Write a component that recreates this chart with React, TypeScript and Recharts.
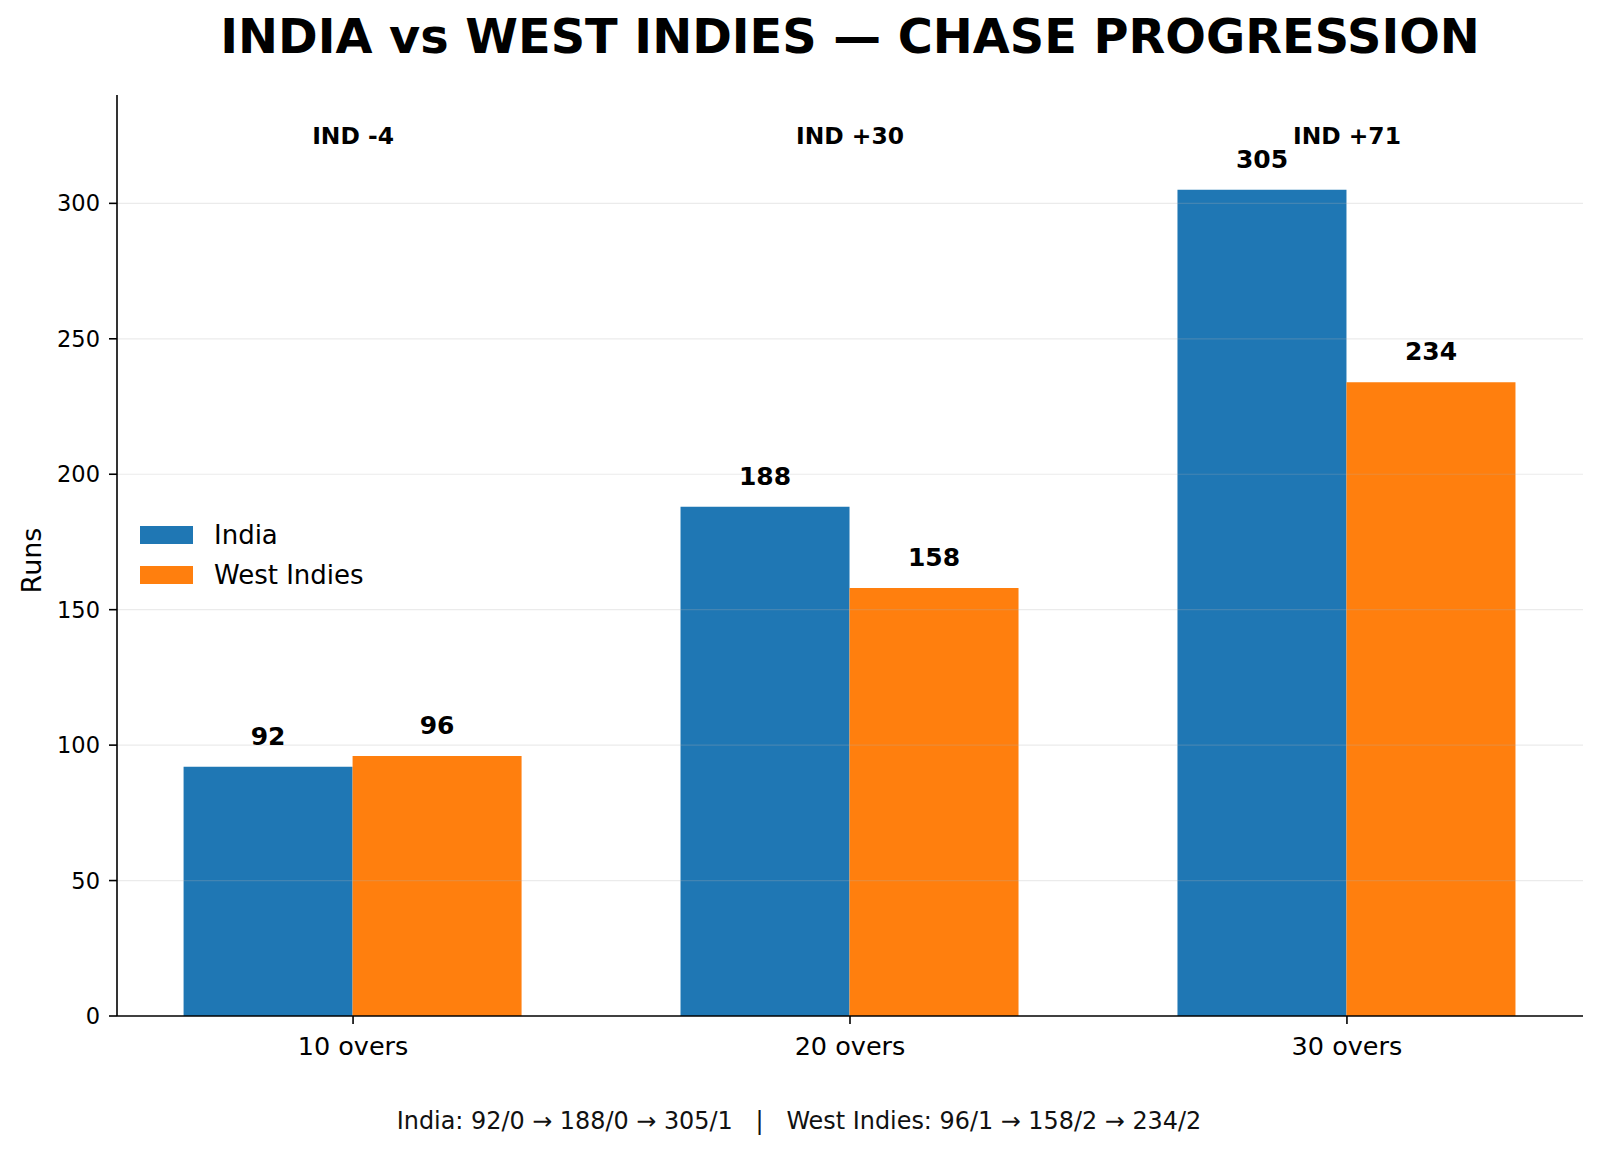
import React from "react";
import { BarChart, Bar, XAxis, YAxis, ReferenceLine, Legend, LabelList, ReferenceDot } from "recharts";

const categories = ["10 overs", "20 overs", "30 overs"];
const india = [92, 188, 305];
const westIndies = [96, 158, 234];
const indiaWickets = [0, 0, 1];
const westIndiesWickets = [1, 2, 2];
const yTicks = [0, 50, 100, 150, 200, 250, 300];
const annotationY = 322;

const FONT = "'DejaVu Sans', sans-serif";
const BLUE = "#1f77b4";
const ORANGE = "#ff7f0e";

const data = categories.map((label, i) => ({
  pos: i,
  label,
  india: india[i],
  westIndies: westIndies[i],
}));

const diffLabel = (i: number) => {
  const d = india[i] - westIndies[i];
  return `IND ${d >= 0 ? "+" : ""}${d}`;
};

const footer =
  "India: " +
  india.map((r, i) => `${r}/${indiaWickets[i]}`).join(" → ") +
  "   |   West Indies: " +
  westIndies.map((r, i) => `${r}/${westIndiesWickets[i]}`).join(" → ");

const LegendBox = ({ payload }: any) => (
  <div style={{ fontFamily: FONT, fontSize: 26, color: "#000" }}>
    {(payload || []).map((entry: any, index: number) => (
      <div key={index} style={{ display: "flex", alignItems: "center", height: 40 }}>
        <div style={{ width: 53, height: 18, background: entry.color, marginRight: 21 }}></div>
        <span>{entry.value}</span>
      </div>
    ))}
  </div>
);

export default function App() {
  return (
    <div style={{ position: "absolute", left: 0, top: 0, width: 1600, height: 1151, background: "#fff", fontFamily: FONT }}>
      <BarChart width={1600} height={1151} data={data} margin={{ top: 95, right: 17, bottom: 75, left: 37 }} barGap={0}>
        <XAxis
          type="number"
          dataKey="pos"
          domain={[-0.475, 2.475]}
          ticks={[0, 1, 2]}
          tickFormatter={(v) => categories[v] ?? ""}
          height={60}
          tickSize={8}
          tickMargin={13}
          axisLine={{ stroke: "#000", strokeWidth: 1.6 }}
          tickLine={{ stroke: "#000", strokeWidth: 1.6 }}
          tick={{ fontSize: 25.5, fill: "#000" }}
          allowDataOverflow
        />
        <YAxis
          type="number"
          domain={[0, 340]}
          ticks={yTicks}
          width={80}
          tickSize={8}
          tickMargin={9}
          axisLine={{ stroke: "#000", strokeWidth: 1.6 }}
          tickLine={{ stroke: "#000", strokeWidth: 1.6 }}
          tick={{ fontSize: 22.5, fill: "#000" }}
          allowDataOverflow
        />
        {yTicks.filter((t) => t > 0).map((t) => (
          <ReferenceLine key={t} y={t} stroke="#b0b0b0" strokeOpacity={0.25} strokeWidth={1.2} />
        ))}
        <Bar dataKey="india" name="India" fill={BLUE} barSize={169} isAnimationActive={false}>
          <LabelList dataKey="india" position="top" offset={22} fill="#000" fontSize={25} fontWeight="bold" />
        </Bar>
        <Bar dataKey="westIndies" name="West Indies" fill={ORANGE} barSize={169} isAnimationActive={false}>
          <LabelList dataKey="westIndies" position="top" offset={22} fill="#000" fontSize={25} fontWeight="bold" />
        </Bar>
        {categories.map((c, i) => (
          <ReferenceDot
            key={c}
            x={i}
            y={annotationY}
            r={0}
            shape={(p: any) => (
              <text x={p.cx} y={p.cy} textAnchor="middle" fontSize={23.4} fontWeight="bold" fill="#000">
                {diffLabel(i)}
              </text>
            )}
          />
        ))}
        <Legend
          layout="vertical"
          align="center"
          verticalAlign="middle"
          content={<LegendBox />}
          wrapperStyle={{ left: 140, top: 514.5, width: "auto" }}
        />
      </BarChart>
      <svg width={1600} height={1151} style={{ position: "absolute", left: 0, top: 0, pointerEvents: "none" }}>
        <text x={850} y={53} textAnchor="middle" fontSize={47.8} fontWeight="bold" fill="#000">
          INDIA vs WEST INDIES — CHASE PROGRESSION
        </text>
        <text transform="translate(40.7,560.5) rotate(-90)" textAnchor="middle" fontSize={27} fill="#000">
          Runs
        </text>
        <text x={799} y={1129} textAnchor="middle" fontSize={23.9} fill="#111" style={{ whiteSpace: "pre" }}>
          {footer}
        </text>
      </svg>
    </div>
  );
}
